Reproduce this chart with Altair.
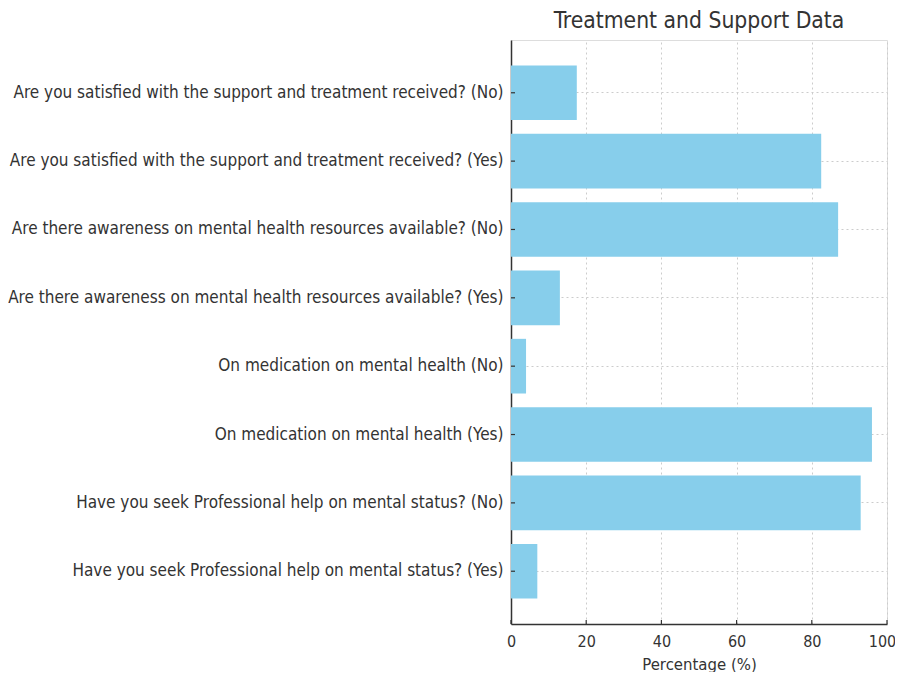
import altair as alt
import pandas as pd

categories = [
    "Are you satisfied with the support and treatment received? (No)",
    "Are you satisfied with the support and treatment received? (Yes)",
    "Are there awareness on mental health resources available? (No)",
    "Are there awareness on mental health resources available? (Yes)",
    "On medication on mental health (No)",
    "On medication on mental health (Yes)",
    "Have you seek Professional help on mental status? (No)",
    "Have you seek Professional help on mental status? (Yes)",
]
values = [17.5, 82.5, 87, 13, 4, 96, 93, 7]
x_ticks = [0, 20, 40, 60, 80, 100]

df = pd.DataFrame({"cat": categories, "val": values})
ticks_df = pd.DataFrame({"t": x_ticks})

W, H = 376, 584
FONT = "DejaVu Sans Condensed"
TXT = "#333333"

yscale = alt.Scale(domain=categories, paddingInner=0.2, paddingOuter=0.372)
xscale = alt.Scale(domain=[0, 100], nice=False)

bars = alt.Chart(df).mark_bar(color="#87CEEB").encode(
    x=alt.X("val:Q", scale=xscale, title="Percentage (%)",
            axis=alt.Axis(values=x_ticks, tickSize=0, labelPadding=9,
                          labelFlush=False,
                          labelOffset={"condition": {"test": "datum.value == 100", "value": -5}, "value": 0},
                          labelFontSize=16, titleFontSize=16.6, titlePadding=7,
                          titleFontWeight="normal", grid=True,
                          gridDash=[2, 3], gridColor="#cccccc",
                          domainColor=TXT, domainWidth=1.5,
                          labelColor=TXT, titleColor=TXT, labelFont=FONT,
                          titleFont=FONT)),
    y=alt.Y("cat:N", scale=yscale, sort=categories, title=None,
            axis=alt.Axis(tickSize=0, labelPadding=8, labelFontSize=17,
                          labelLimit=0, grid=True, bandPosition=0.5,
                          gridDash=[2, 3], gridColor="#cccccc",
                          domainColor=TXT, domainWidth=1.5,
                          labelColor=TXT, labelFont=FONT)),
)

xt = alt.Chart(ticks_df).mark_rule(color=TXT, strokeWidth=1.2).encode(
    x=alt.X("t:Q", scale=xscale),
    y=alt.value(H),
    y2=alt.value(H - 4),
)

yt = alt.Chart(df).mark_rule(color=TXT, strokeWidth=1.2).encode(
    y=alt.Y("cat:N", scale=yscale, sort=categories),
    x=alt.value(0),
    x2=alt.value(4),
)

chart = alt.layer(bars, xt, yt).properties(
    width=W,
    height=H,
    title=alt.TitleParams("Treatment and Support Data", fontSize=22.7,
                          fontWeight="normal", font=FONT, color=TXT,
                          offset=7),
    autosize=alt.AutoSizeParams(type="none"),
    padding={"left": 503, "top": 32, "right": 8, "bottom": 48},
).configure_view(stroke=None).configure(background="white")

chart.save("out.html", embed_options={"renderer": "svg", "actions": False})
